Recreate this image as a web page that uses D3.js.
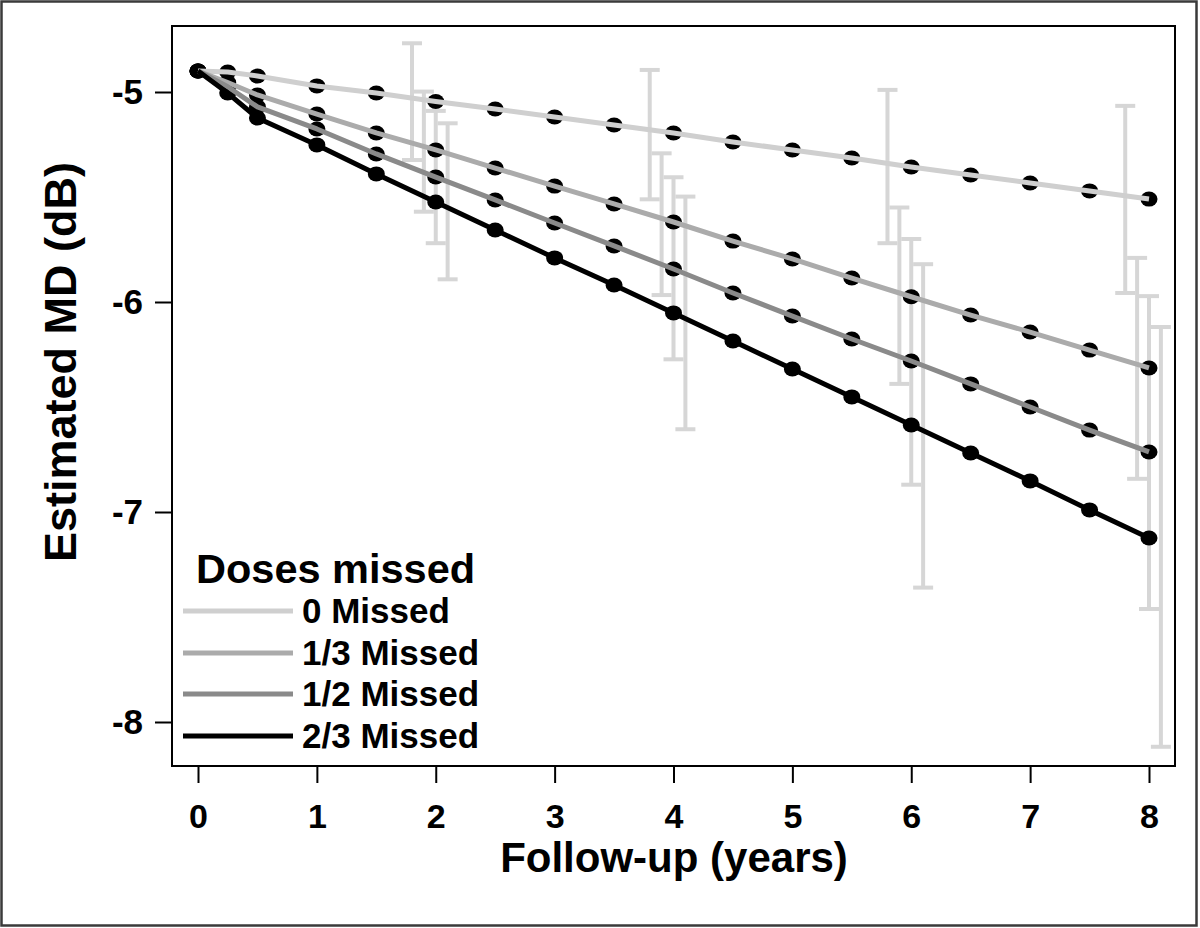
<!DOCTYPE html>
<html>
<head>
<meta charset="utf-8">
<script src="https://cdn.jsdelivr.net/npm/d3@7"></script>
<style>
  html, body { margin: 0; padding: 0; background: #fff; }
  svg { display: block; }
  text { font-family: "Liberation Sans", Arial, Helvetica, sans-serif; font-weight: bold; fill: #000; }
</style>
</head>
<body>
<svg id="chart" width="1200" height="928"></svg>
<script>
// ---------------- data ----------------
const years = [0, 0.25, 0.5, 1, 1.5, 2, 2.5, 3, 3.5, 4, 4.5, 5, 5.5, 6, 6.5, 7, 7.5, 8];
const seriesNames = ["0 Missed", "1/3 Missed", "1/2 Missed", "2/3 Missed"];
const missed0 = [-4.9, -4.905, -4.924, -4.971, -5.005, -5.045, -5.081, -5.119, -5.157, -5.195, -5.238, -5.276, -5.314, -5.357, -5.395, -5.433, -5.471, -5.51];
const missed13 = [-4.9, -4.955, -5.014, -5.105, -5.195, -5.276, -5.362, -5.448, -5.533, -5.619, -5.71, -5.795, -5.886, -5.975, -6.062, -6.143, -6.229, -6.314];
const missed12 = [-4.9, -4.975, -5.071, -5.176, -5.295, -5.405, -5.514, -5.624, -5.733, -5.843, -5.957, -6.067, -6.176, -6.281, -6.39, -6.5, -6.61, -6.714];
const missed23 = [-4.9, -5.005, -5.124, -5.252, -5.39, -5.524, -5.657, -5.79, -5.919, -6.052, -6.186, -6.319, -6.452, -6.586, -6.719, -6.852, -6.99, -7.124];
const ciYears = [2, 4, 6, 8];
const ciUpper0 = [-4.768, -4.895, -4.99, -5.066];
const ciLower0 = [-5.324, -5.511, -5.72, -5.957];
const ciUpper13 = [-4.998, -5.292, -5.55, -5.79];
const ciLower13 = [-5.57, -5.967, -6.39, -6.842];
const ciUpper12 = [-5.09, -5.406, -5.70, -5.972];
const ciLower12 = [-5.72, -6.273, -6.87, -7.462];
const ciUpper23 = [-5.149, -5.498, -5.82, -6.119];
const ciLower23 = [-5.892, -6.606, -7.36, -8.118];
const xTicks = [0, 1, 2, 3, 4, 5, 6, 7, 8];
const yTicks = [-5, -6, -7, -8];
const xTitle = "Follow-up (years)";
const yTitle = "Estimated MD (dB)";
const legendTitle = "Doses missed";

// ---------------- styles ----------------
const colors = ["#cfcfcf", "#ababab", "#8a8a8a", "#000000"];
const ciColor = "#d6d6d6";
const dodge = [-0.2, -0.1, 0, 0.1];

const seriesVals = [missed0, missed13, missed12, missed23];
const ciUp = [ciUpper0, ciUpper13, ciUpper12, ciUpper23];
const ciLo = [ciLower0, ciLower13, ciLower12, ciLower23];

const svg = d3.select("#chart");
const box = { left: 172, right: 1175, top: 26, bottom: 766 };

const x = d3.scaleLinear().domain([0, 8]).range([198, 1149]);
const y = d3.scaleLinear().domain([-5, -8]).range([92, 722]);

// outer frame
svg.append("rect").attr("x", 1.5).attr("y", 1.5).attr("width", 1195).attr("height", 924)
  .attr("fill", "#fff").attr("stroke", "#3a3a3a").attr("stroke-width", 2.5);

// plot box
svg.append("rect").attr("x", box.left).attr("y", box.top)
  .attr("width", box.right - box.left).attr("height", box.bottom - box.top)
  .attr("fill", "none").attr("stroke", "#000").attr("stroke-width", 2);

// axes
const xAxis = d3.axisBottom(x).tickValues(xTicks).tickSize(17).tickPadding(21).tickFormat(d3.format("d"));
const gx = svg.append("g").attr("transform", `translate(0,${box.bottom})`).call(xAxis);
gx.select(".domain").remove();
gx.selectAll(".tick line").attr("stroke", "#000").attr("stroke-width", 2);
gx.selectAll(".tick text").style("font-size", "34px").attr("fill", "#000")
  .style("font-family", "'Liberation Sans', Arial, sans-serif").style("font-weight", "bold");

const yAxis = d3.axisLeft(y).tickValues(yTicks).tickSize(17).tickPadding(12).tickFormat(d => d3.format("d")(d).replace("\u2212", "-"));
const gy = svg.append("g").attr("transform", `translate(${box.left},0)`).call(yAxis);
gy.select(".domain").remove();
gy.selectAll(".tick line").attr("stroke", "#000").attr("stroke-width", 2);
gy.selectAll(".tick text").style("font-size", "35px").attr("fill", "#000")
  .style("font-family", "'Liberation Sans', Arial, sans-serif").style("font-weight", "bold");

// axis titles
svg.append("text").attr("x", 674).attr("y", 872).attr("text-anchor", "middle")
  .style("font-size", "42px").text(xTitle);
svg.append("text").attr("transform", "translate(76,362) rotate(-90)").attr("text-anchor", "middle")
  .style("font-size", "45px").text(yTitle);

// error bars
const capHalf = 10;
const gErr = svg.append("g");
ciYears.forEach((yr, j) => {
  for (let s = 0; s < 4; s++) {
    const cx = x(yr + dodge[s]);
    const y1 = y(ciUp[s][j]), y2 = y(ciLo[s][j]);
    gErr.append("line").attr("x1", cx).attr("x2", cx).attr("y1", y1).attr("y2", y2)
      .attr("stroke", ciColor).attr("stroke-width", 4);
    [y1, y2].forEach(yy => gErr.append("line").attr("x1", cx - capHalf).attr("x2", cx + capHalf)
      .attr("y1", yy).attr("y2", yy).attr("stroke", ciColor).attr("stroke-width", 4));
  }
});

// points
const gPts = svg.append("g");
seriesVals.forEach(vals => {
  gPts.selectAll(null).data(vals).enter().append("ellipse")
    .attr("cx", (d, i) => x(years[i])).attr("cy", d => y(d))
    .attr("rx", 8.5).attr("ry", 7.5).attr("fill", "#000");
});

// lines
const line = d3.line().x((d, i) => x(years[i])).y(d => y(d));
seriesVals.forEach((vals, s) => {
  svg.append("path").datum(vals).attr("d", line).attr("fill", "none")
    .attr("stroke", colors[s]).attr("stroke-width", 5).attr("stroke-linejoin", "round");
});

// legend
const lg = svg.append("g");
lg.append("text").attr("x", 196).attr("y", 583).style("font-size", "41.5px").text(legendTitle);
const legendY = [611, 653, 694, 736];
seriesNames.forEach((name, s) => {
  lg.append("line").attr("x1", 183).attr("x2", 293).attr("y1", legendY[s]).attr("y2", legendY[s])
    .attr("stroke", colors[s]).attr("stroke-width", 5);
  lg.append("text").attr("x", 302).attr("y", legendY[s] + 12).style("font-size", "35px").text(name);
});
</script>
</body>
</html>
